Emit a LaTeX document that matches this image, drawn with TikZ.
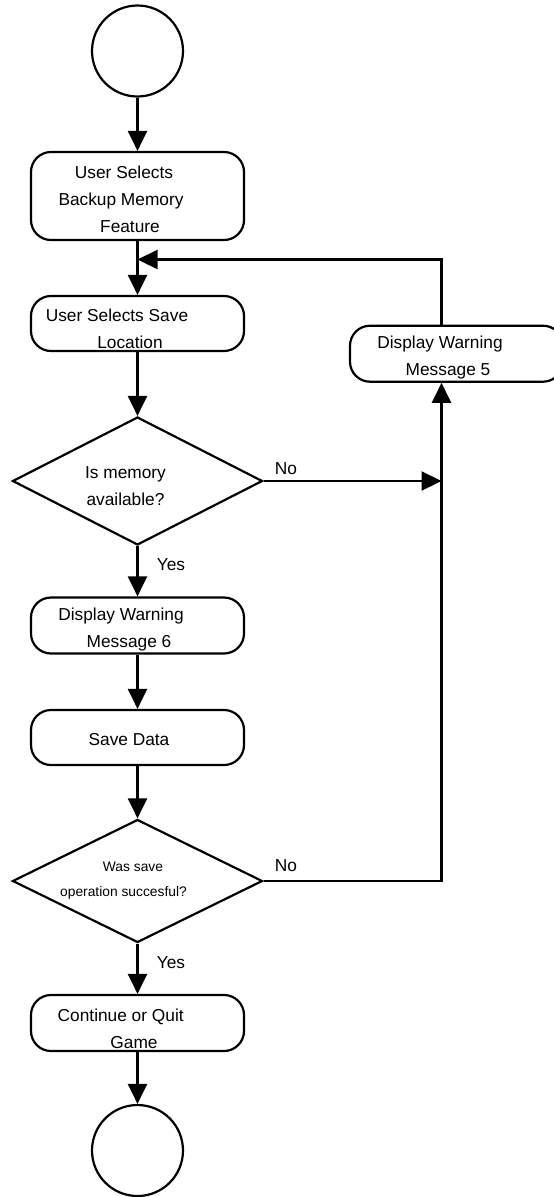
\documentclass[tikz,border=0pt]{standalone}
\usepackage{fontspec}
\setmainfont{Liberation Sans}
\usetikzlibrary{shapes.geometric,arrows.meta}
\newcommand{\Ls}[3]{\raisebox{-#2}[\height][\depth]{\hspace*{#1}#3\hspace*{-#1}}}
\begin{document}
\begin{tikzpicture}[x=1pt,y=-1pt,
  every node/.style={font=\fontsize{17.3}{27}\selectfont},
  lw/.style={line width=2.2pt},
  proc/.style={draw,lw,rectangle,rounded corners=20pt,minimum width=213pt,inner sep=0pt,align=center},
  dec/.style={draw,lw,diamond,aspect=1.95,minimum width=250pt,minimum height=128pt,inner sep=0pt,align=center},
  term/.style={draw,lw,circle,minimum size=91pt,inner sep=0pt},
  arr/.style={lw,-{Triangle[length=20pt,width=19pt]}},
  lbl/.style={inner sep=0pt,anchor=base}]
\useasboundingbox (0,0) rectangle (554,1197);
\node[term] (start) at (137.5,51) {};
\node[proc,minimum height=88pt] (b1) at (137.5,196)
  {\Ls{-13.5pt}{3pt}{User Selects}\\\Ls{-16.5pt}{3pt}{Backup Memory}\\\Ls{-7.5pt}{3pt}{Feature}};
\node[proc,minimum height=55pt] (b2) at (137.5,323.5)
  {\Ls{-20.5pt}{5pt}{User Selects Save}\\\Ls{-7.5pt}{5pt}{Location}};
\node[dec] (d1) at (137.5,481)
  {\Ls{-12pt}{5pt}{Is memory}\\\Ls{-12pt}{5pt}{available?}};
\node[proc,minimum height=56pt] (b4) at (137.5,625.5)
  {\Ls{-16.5pt}{4.5pt}{Display Warning}\\\Ls{-8.5pt}{4.5pt}{Message 6}};
\node[proc,minimum height=55pt] (b5) at (137.5,737.5)
  {\Ls{-8.5pt}{2.5pt}{Save Data}};
\node[dec,minimum height=123pt,font=\fontsize{13.8}{25}\selectfont] (d2) at (137.5,881)
  {\Ls{-4.5pt}{0pt}{Was save}\\\Ls{-14pt}{0pt}{operation succesful?}};
\node[proc,minimum height=56pt] (b6) at (137.5,1023)
  {\Ls{-16.8pt}{5.5pt}{Continue or Quit}\\\Ls{-3.5pt}{5.5pt}{Game}};
\node[term] (end) at (137.5,1150.5) {};
\node[proc,minimum height=56pt] (b3) at (456.5,353.7)
  {\Ls{-16.5pt}{4pt}{Display Warning}\\\Ls{-8.5pt}{4pt}{Message 5}};
\coordinate (m) at (137.5,259.5);
\coordinate (t) at (441.5,259.5);
\draw[arr] (start) -- (b1);
\draw[arr] (b1) -- (b2);
\draw[arr] (b3.north -| t) -- (t) -- (m);
\draw[arr] (b2) -- (d1);
\draw[arr] (d1.east) -- (d1.east -| t);
\draw[arr] (d1) -- (b4);
\draw[arr] (b4) -- (b5);
\draw[arr] (b5) -- (d2);
\draw[arr] (d2.east) -- (d2.east -| t) -- (b3.south -| t);
\draw[arr] (d2) -- (b6);
\draw[arr] (b6) -- (end);
\node[lbl] (no1) at (286,474.3) {No};
\node[lbl] (yes1) at (171,570.7) {Yes};
\node[lbl] (no2) at (286,871.7) {No};
\node[lbl] (yes2) at (171,968) {Yes};
\end{tikzpicture}
\end{document}
